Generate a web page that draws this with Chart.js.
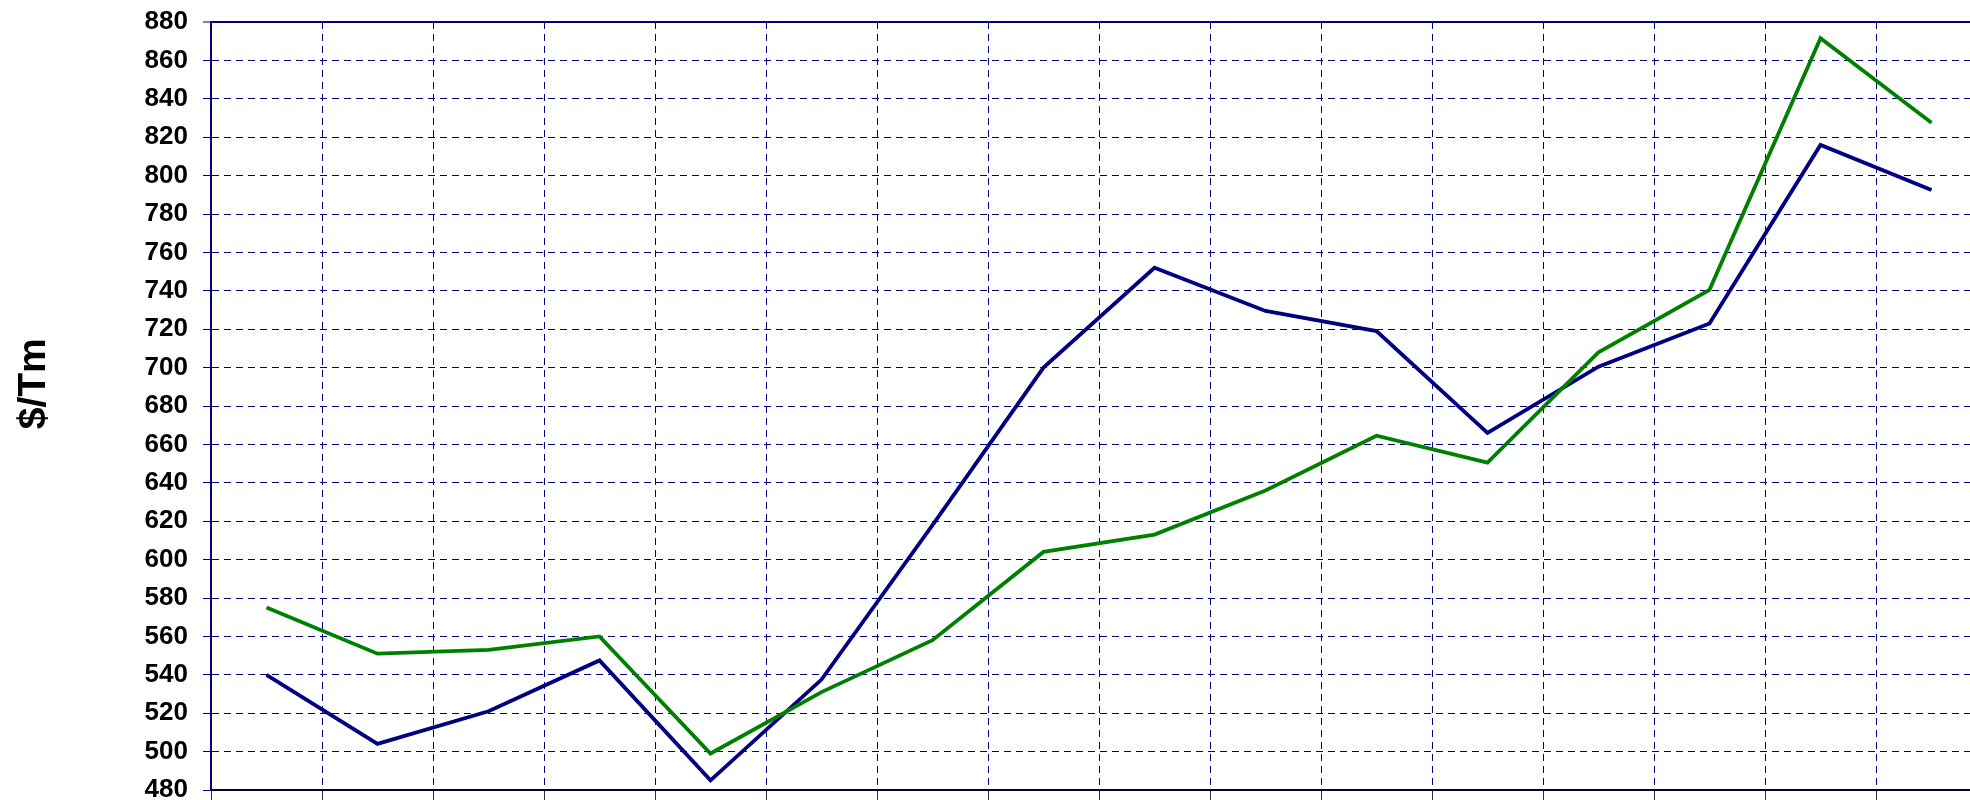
<!DOCTYPE html>
<html><head><meta charset="utf-8">
<script src="https://cdn.jsdelivr.net/npm/chart.js@4"></script>
<style>
html,body{margin:0;padding:0;background:#fff;overflow:hidden;width:1970px;height:800px}
canvas{display:block}
</style></head>
<body>
<canvas id="c" width="1988" height="800" style="width:1988px;height:800px"></canvas>
<script>
// ---- data ----
const categories = ['1','2','3','4','5','6','7','8','9','10','11','12','13','14','15','16'];
const seriesBlue  = [540, 504, 521, 547.5, 485, 537.5, 618, 700, 752, 729.5, 719, 666, 700.5, 723, 816, 792.5];
const seriesGreen = [575, 551, 553, 560, 499, 531, 558, 604, 613, 636, 664.5, 650.5, 708, 740.5, 871.5, 827.5];
const yMin = 480;
const yMax = 880;
const yStep = 20;
const yTitle = '$/Tm';

const NAVY = '#000080';
const FONT = '"Liberation Sans", Arial, Helvetica, sans-serif';

const yTitlePlugin = {
  id: 'yTitle',
  afterDraw(chart) {
    const {ctx, chartArea} = chart;
    ctx.save();
    ctx.font = 'bold 39px ' + FONT;
    ctx.fillStyle = '#000';
    ctx.textAlign = 'center';
    ctx.textBaseline = 'alphabetic';
    const y = chartArea.top + (chartArea.bottom - chartArea.top) * 0.471;
    ctx.translate(chartArea.left - 166, y);
    ctx.rotate(-Math.PI / 2);
    ctx.fillText(yTitle, 0, 0);
    ctx.restore();
  }
};

new Chart(document.getElementById('c'), {
  type: 'line',
  data: {
    labels: categories,
    datasets: [
      { label: 'Serie 2', data: seriesGreen, borderColor: '#008000', backgroundColor: '#008000',
        borderWidth: 3.8, pointRadius: 0, pointHoverRadius: 0, tension: 0, fill: false },
      { label: 'Serie 1', data: seriesBlue, borderColor: NAVY, backgroundColor: NAVY,
        borderWidth: 3.8, pointRadius: 0, pointHoverRadius: 0, tension: 0, fill: false }
    ]
  },
  options: {
    responsive: false,
    animation: false,
    devicePixelRatio: 1,
    layout: { padding: { top: 22, right: 1, left: 0, bottom: 0 } },
    plugins: { legend: { display: false }, tooltip: { enabled: false }, title: { display: false } },
    scales: {
      x: {
        type: 'category',
        offset: true,
        grid: {
          display: true, offset: true, color: NAVY, lineWidth: 1,
          drawTicks: true, tickLength: 10, tickColor: '#333', tickWidth: 1
        },
        border: { display: true, color: '#00003a', width: 2, dash: [7, 5] },
        ticks: { display: false },
        afterFit(s) { s.height = 10; s.paddingLeft = 0; s.paddingRight = 0; }
      },
      y: {
        min: yMin, max: yMax,
        grid: {
          color: NAVY,
          lineWidth: (c) => (c.tick && c.tick.value === yMax) ? 2 : 1,
          drawTicks: true, tickLength: 8, tickColor: NAVY, tickWidth: 1
        },
        border: { display: true, color: NAVY, width: 2,
          dash: (c) => (c.tick && c.tick.value === yMax) ? [] : [7, 5] },
        ticks: {
          stepSize: yStep, color: '#000', padding: 15,
          font: { family: FONT, size: 26, weight: 'bold' }
        },
        afterFit(s) { s.width = 211; s.paddingTop = 0; s.paddingBottom = 0; }
      }
    }
  },
  plugins: [yTitlePlugin]
});
</script>
</body></html>
